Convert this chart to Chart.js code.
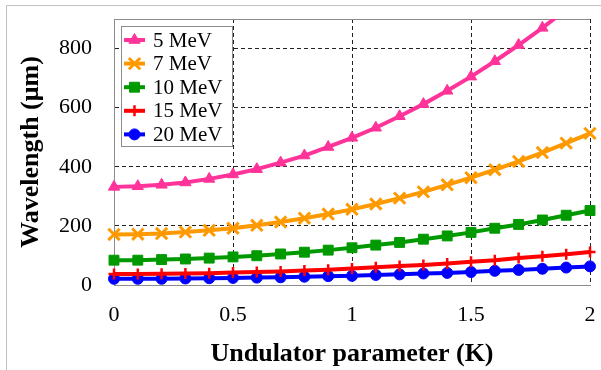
<!DOCTYPE html>
<html>
<head>
<meta charset="utf-8">
<script src="https://cdn.jsdelivr.net/npm/chart.js@4/dist/chart.umd.min.js"></script>
<style>
html,body{margin:0;padding:0;background:#fff;}
canvas{display:block;}
.pre{font-family:"Liberation Serif";position:absolute;left:-999px;top:-999px;}
</style>
</head>
<body>
<span class="pre">Wavelength 0123456789 <b>Undulator (K)</b></span>
<canvas id="c" width="601" height="370"></canvas>
<script>
// ---- data ----
const kValues = [0,0.1,0.2,0.3,0.4,0.5,0.6,0.7,0.8,0.9,1.0,1.1,1.2,1.3,1.4,1.5,1.6,1.7,1.8,1.9,2.0];
const seriesLabels = ['5 MeV','7 MeV','10 MeV','15 MeV','20 MeV'];
const mev5  = [332,334,339,347,359,374,392,414,438,467,498,532,571,612,657,705,757,812,870,932,996];
const mev7  = [171,172,174,179,185,192,202,213,226,240,256,274,294,315,339,363,390,418,448,480,513];
const mev10 = [84,84,86,88,91,95,99,105,111,118,126,135,144,155,166,178,192,205,220,236,252];
const mev15 = [37,37,38,39,40,42,44,46,49,52,56,60,64,68,73,79,84,91,97,104,112];
const mev20 = [21,21,21,22,23,24,25,26,28,30,31,34,36,39,41,44,48,51,55,59,63];
const xTicks = [0,0.5,1,1.5,2];
const yTicks = [0,200,400,600,800];

const seriesValues = [mev5, mev7, mev10, mev15, mev20];
const colors = ['#FF3399','#FF9900','#009900','#FF0000','#0000FF'];
const styles = ['triangle','crossRot','rect','cross','circle'];
const radii  = [6.5, 8, 7, 5.5, 5.5];
const pbw    = [1, 3, 1, 2.5, 1];

const SERIF = '"Liberation Serif", "Times New Roman", Tinos, "DejaVu Serif", serif';

function build() {
  const datasets = seriesLabels.map((lab, i) => ({
    label: lab,
    data: kValues.map((k, j) => ({x: k, y: seriesValues[i][j]})),
    borderColor: colors[i],
    backgroundColor: colors[i],
    borderWidth: 4,
    pointStyle: styles[i],
    pointRadius: radii[i],
    pointBorderWidth: pbw[i],
    pointBackgroundColor: colors[i],
    pointBorderColor: colors[i],
    tension: 0,
    clip: {left: false, top: 0, right: false, bottom: false}
  }));

  const framePlugin = {
    id: 'frame',
    beforeDraw(chart) {
      const ctx = chart.ctx;
      ctx.save();
      ctx.strokeStyle = '#c0c0c0';
      ctx.lineWidth = 1;
      ctx.beginPath();
      ctx.moveTo(6.5, 370);
      ctx.lineTo(6.5, 5.5);
      ctx.lineTo(601, 5.5);
      ctx.stroke();
      ctx.restore();
    },
    beforeDatasetsDraw(chart) {
      const ctx = chart.ctx, a = chart.chartArea;
      ctx.save();
      ctx.strokeStyle = '#8c8c8c';
      ctx.lineWidth = 1;
      ctx.beginPath();
      const y = Math.round(a.top) + 0.5;
      ctx.moveTo(a.left, y);
      ctx.lineTo(a.right, y);
      ctx.stroke();
      ctx.restore();
    }
  };

  const legendPlugin = {
    id: 'innerLegend',
    afterDraw(chart) {
      const ctx = chart.ctx;
      const bx = 121.5, by = 26.5, bw = 111, bh = 120;
      ctx.save();
      ctx.fillStyle = '#ffffff';
      ctx.fillRect(bx, by, bw, bh);
      ctx.strokeStyle = '#8c8c8c';
      ctx.lineWidth = 1;
      ctx.strokeRect(bx, by, bw, bh);
      ctx.font = '21px ' + SERIF;
      ctx.textBaseline = 'middle';
      ctx.textAlign = 'left';
      chart.data.datasets.forEach((ds, i) => {
        const y = 40 + i * 23.6;
        ctx.strokeStyle = ds.borderColor;
        ctx.fillStyle = ds.borderColor;
        ctx.lineWidth = 4;
        ctx.beginPath();
        ctx.moveTo(124, y);
        ctx.lineTo(145, y);
        ctx.stroke();
        ctx.lineWidth = ds.pointBorderWidth;
        Chart.helpers.drawPoint(ctx, {
          pointStyle: ds.pointStyle,
          radius: ds.pointRadius,
          rotation: 0,
          borderWidth: ds.pointBorderWidth
        }, 134.5, y);
        ctx.fillStyle = '#000';
        ctx.fillText(ds.label, 153, y + 1);
      });
      ctx.restore();
    }
  };

  new Chart(document.getElementById('c'), {
    type: 'line',
    data: { datasets },
    options: {
      responsive: false,
      animation: false,
      devicePixelRatio: 1,
      layout: { padding: { left: 0, top: 19, right: 9, bottom: 0 } },
      plugins: { legend: { display: false }, tooltip: { enabled: false } },
      scales: {
        x: {
          type: 'linear',
          min: 0, max: 2,
          afterFit(s) { s.height = 85; s.paddingLeft = 0; s.paddingRight = 0; },
          afterBuildTicks(s) { s.ticks = xTicks.map(v => ({value: v})); },
          grid: {
            drawTicks: false,
            color: c => (c.tick && c.tick.value === 0) ? 'rgba(0,0,0,0)' : '#222',
            lineWidth: 1
          },
          border: { display: true, color: '#8c8c8c', width: 1, dash: [4, 3] },
          ticks: {
            padding: 17,
            color: '#000',
            font: { family: SERIF, size: 22 },
            maxRotation: 0,
            callback: v => String(v)
          },
          title: {
            display: true,
            text: 'Undulator parameter (K)',
            color: '#000',
            font: { family: SERIF, size: 26, weight: 'bold' },
            padding: { top: 0, bottom: 0 }
          }
        },
        y: {
          type: 'linear',
          min: 0, max: 900,
          afterFit(s) { s.width = 114; s.paddingTop = 0; s.paddingBottom = 0; },
          afterBuildTicks(s) { s.ticks = yTicks.map(v => ({value: v})); },
          grid: {
            drawTicks: false,
            color: c => (c.tick && c.tick.value === 0) ? 'rgba(0,0,0,0)' : '#222',
            lineWidth: 1
          },
          border: { display: true, color: '#8c8c8c', width: 1, dash: [4, 3] },
          ticks: {
            padding: 22,
            color: '#000',
            font: { family: SERIF, size: 22 },
            callback: v => String(v)
          },
          title: {
            display: true,
            text: 'Wavelength (μm)',
            color: '#000',
            font: { family: SERIF, size: 26, weight: 'bold' },
            padding: { top: 16, bottom: 0 }
          }
        }
      }
    },
    plugins: [framePlugin, legendPlugin]
  });
}

const fontLoads = [
  '21px "Liberation Serif"',
  'bold 26px "Liberation Serif"'
].map(f => document.fonts.load(f).catch(() => null));
Promise.all(fontLoads).then(build, build);
</script>
</body>
</html>
